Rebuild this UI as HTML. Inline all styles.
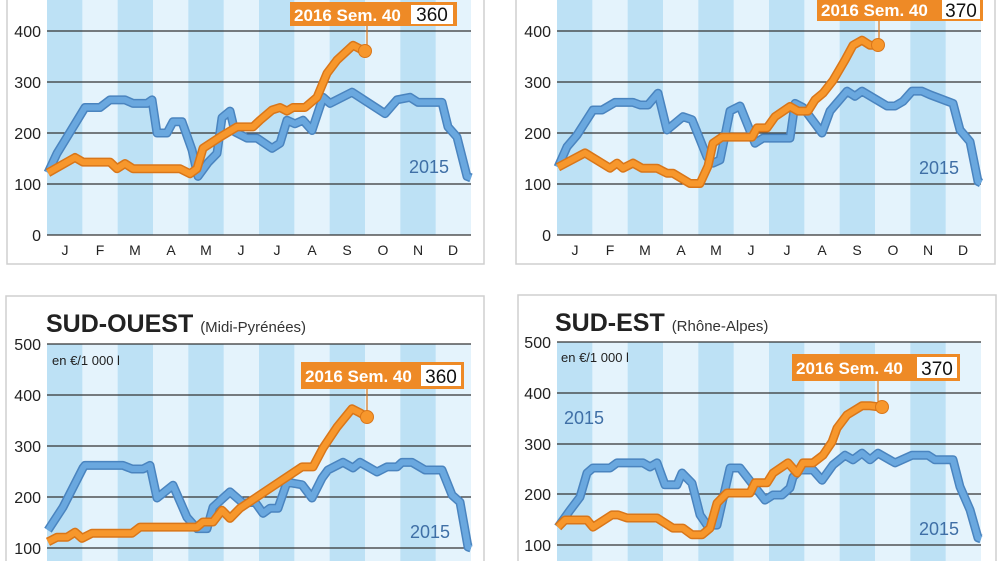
<!DOCTYPE html>
<html><head><meta charset="utf-8"><style>
html,body{margin:0;padding:0;background:#fff;width:1000px;height:561px;overflow:hidden}
svg{display:block}
.ax{font-family:"Liberation Sans",sans-serif;font-size:16px;fill:#222}
.mo{font-family:"Liberation Sans",sans-serif;font-size:14px;fill:#222;text-anchor:middle}
.yr{font-family:"Liberation Sans",sans-serif;font-size:18px;fill:#3f6fa6}
.lb{font-family:"Liberation Sans",sans-serif;font-size:17px;font-weight:bold;fill:#fff}
.lv{font-family:"Liberation Sans",sans-serif;font-size:19px;fill:#111}
.bo{fill:none;stroke:#4a84bf;stroke-width:9;stroke-linejoin:round}
.bi{fill:none;stroke:#6aa8df;stroke-width:6;stroke-linejoin:round}
.oo{fill:none;stroke:#d97619;stroke-width:9;stroke-linejoin:round}
.oi{fill:none;stroke:#f7972c;stroke-width:6;stroke-linejoin:round}
.g{stroke:#333;stroke-width:1.2}
</style></head><body>
<svg width="1000" height="561" viewBox="0 0 1000 561" xmlns="http://www.w3.org/2000/svg">
<defs>
<pattern id="pL" patternUnits="userSpaceOnUse" x="47" y="0" width="70.667" height="600"><rect width="70.667" height="600" fill="#e4f3fc"/><rect width="35.333" height="600" fill="#bde1f5"/></pattern>
<pattern id="pR" patternUnits="userSpaceOnUse" x="557" y="0" width="70.667" height="600"><rect width="70.667" height="600" fill="#e4f3fc"/><rect width="35.333" height="600" fill="#bde1f5"/></pattern>
</defs>
<rect x="7" y="-10" width="477" height="274" fill="none" stroke="#cfcfcf" stroke-width="1.5"/>
<rect x="516" y="-10" width="479" height="274" fill="none" stroke="#cfcfcf" stroke-width="1.5"/>
<rect x="6" y="296" width="478" height="280" fill="none" stroke="#cfcfcf" stroke-width="1.5"/>
<rect x="518" y="295" width="478" height="280" fill="none" stroke="#cfcfcf" stroke-width="1.5"/>

<rect x="47" y="0" width="424" height="235" fill="url(#pL)"/>
<rect x="557" y="0" width="424" height="235" fill="url(#pR)"/>
<rect x="47" y="344" width="424" height="220" fill="url(#pL)"/>
<rect x="557" y="342" width="424" height="222" fill="url(#pR)"/>

<g class="g">
<line x1="47" x2="471" y1="31" y2="31"/><line x1="47" x2="471" y1="82" y2="82"/><line x1="47" x2="471" y1="133" y2="133"/><line x1="47" x2="471" y1="184" y2="184"/><line x1="47" x2="471" y1="235" y2="235"/>
<line x1="557" x2="981" y1="31" y2="31"/><line x1="557" x2="981" y1="82" y2="82"/><line x1="557" x2="981" y1="133" y2="133"/><line x1="557" x2="981" y1="184" y2="184"/><line x1="557" x2="981" y1="235" y2="235"/>
<line x1="47" x2="471" y1="344" y2="344"/><line x1="47" x2="471" y1="395" y2="395"/><line x1="47" x2="471" y1="446" y2="446"/><line x1="47" x2="471" y1="497" y2="497"/><line x1="47" x2="471" y1="548" y2="548"/>
<line x1="557" x2="981" y1="342" y2="342"/><line x1="557" x2="981" y1="393" y2="393"/><line x1="557" x2="981" y1="444" y2="444"/><line x1="557" x2="981" y1="494" y2="494"/><line x1="557" x2="981" y1="545" y2="545"/>
</g>

<g class="ax" text-anchor="end">
<text x="41" y="37">400</text><text x="41" y="88">300</text><text x="41" y="139">200</text><text x="41" y="190">100</text><text x="41" y="241">0</text>
<text x="551" y="37">400</text><text x="551" y="88">300</text><text x="551" y="139">200</text><text x="551" y="190">100</text><text x="551" y="241">0</text>
<text x="41" y="350">500</text><text x="41" y="401">400</text><text x="41" y="452">300</text><text x="41" y="503">200</text><text x="41" y="554">100</text>
<text x="551" y="348">500</text><text x="551" y="399">400</text><text x="551" y="450">300</text><text x="551" y="500">200</text><text x="551" y="551">100</text>
</g>

<g class="mo">
<text x="65" y="255">J</text><text x="100" y="255">F</text><text x="135" y="255">M</text><text x="171" y="255">A</text><text x="206" y="255">M</text><text x="241" y="255">J</text><text x="277" y="255">J</text><text x="312" y="255">A</text><text x="347" y="255">S</text><text x="383" y="255">O</text><text x="418" y="255">N</text><text x="453" y="255">D</text>
<text x="575" y="255">J</text><text x="610" y="255">F</text><text x="645" y="255">M</text><text x="681" y="255">A</text><text x="716" y="255">M</text><text x="751" y="255">J</text><text x="787" y="255">J</text><text x="822" y="255">A</text><text x="857" y="255">S</text><text x="893" y="255">O</text><text x="928" y="255">N</text><text x="963" y="255">D</text>
</g>

<text x="46" y="332" font-family="Liberation Sans,sans-serif" font-size="25" font-weight="bold" fill="#222">SUD-OUEST <tspan font-size="15" font-weight="normal" fill="#333">(Midi-Pyrénées)</tspan></text>
<text x="555" y="331" font-family="Liberation Sans,sans-serif" font-size="25" font-weight="bold" fill="#222">SUD-EST <tspan font-size="15" font-weight="normal" fill="#333">(Rhône-Alpes)</tspan></text>
<text x="52" y="365" font-family="Liberation Sans,sans-serif" font-size="13" fill="#222">en €/1 000 l</text>
<text x="561" y="362" font-family="Liberation Sans,sans-serif" font-size="13" fill="#222">en €/1 000 l</text>

<g transform="translate(0,235) scale(1,-0.51)">
<polyline vector-effect="non-scaling-stroke" class="bo" points="48,122 57,160 67,192 85,250 100,250 110,265 125,265 133,258 147,258 152,265 157,200 167,200 173,222 182,222 192,167 198,115 208,142 217,160 222,230 230,243 235,202 247,190 257,190 272,170 280,180 287,225 295,218 303,225 312,205 323,270 330,258 352,280 385,238 397,265 410,270 418,260 442,260 448,212 457,192 467,115 471,112"/>
<polyline vector-effect="non-scaling-stroke" class="bi" points="48,122 57,160 67,192 85,250 100,250 110,265 125,265 133,258 147,258 152,265 157,200 167,200 173,222 182,222 192,167 198,115 208,142 217,160 222,230 230,243 235,202 247,190 257,190 272,170 280,180 287,225 295,218 303,225 312,205 323,270 330,258 352,280 385,238 397,265 410,270 418,260 442,260 448,212 457,192 467,115 471,112"/>
<polyline vector-effect="non-scaling-stroke" class="oo" points="48,122 75,152 83,143 110,143 117,130 125,140 133,130 180,130 190,120 197,130 203,170 220,192 237,212 253,212 260,225 272,245 280,250 287,243 293,250 305,250 317,270 327,317 337,343 353,372 360,365 365,360"/>
<polyline vector-effect="non-scaling-stroke" class="oi" points="48,122 75,152 83,143 110,143 117,130 125,140 133,130 180,130 190,120 197,130 203,170 220,192 237,212 253,212 260,225 272,245 280,250 287,243 293,250 305,250 317,270 327,317 337,343 353,372 360,365 365,360"/>
</g>
<g transform="translate(0,235) scale(1,-0.51)">
<polyline vector-effect="non-scaling-stroke" class="bo" points="558,133 567,173 577,196 593,245 602,245 615,260 633,260 640,255 648,255 658,278 667,206 683,232 692,226 707,153 713,141 720,147 730,243 740,253 755,180 763,190 790,190 795,258 803,250 822,200 830,243 847,282 855,272 862,282 887,253 895,253 903,262 912,282 922,282 930,275 953,258 960,206 970,183 978,105 981,102"/>
<polyline vector-effect="non-scaling-stroke" class="bi" points="558,133 567,173 577,196 593,245 602,245 615,260 633,260 640,255 648,255 658,278 667,206 683,232 692,226 707,153 713,141 720,147 730,243 740,253 755,180 763,190 790,190 795,258 803,250 822,200 830,243 847,282 855,272 862,282 887,253 895,253 903,262 912,282 922,282 930,275 953,258 960,206 970,183 978,105 981,102"/>
<polyline vector-effect="non-scaling-stroke" class="oo" points="558,133 585,161 610,131 617,141 623,131 633,141 642,131 657,131 667,121 673,121 690,101 700,101 708,135 713,180 722,192 752,192 757,210 767,210 775,232 790,252 798,243 808,243 815,265 823,278 833,303 845,343 853,372 862,382 870,372 878,372"/>
<polyline vector-effect="non-scaling-stroke" class="oi" points="558,133 585,161 610,131 617,141 623,131 633,141 642,131 657,131 667,121 673,121 690,101 700,101 708,135 713,180 722,192 752,192 757,210 767,210 775,232 790,252 798,243 808,243 815,265 823,278 833,303 845,343 853,372 862,382 870,372 878,372"/>
</g>
<g transform="translate(0,599) scale(1,-0.51)">
<polyline vector-effect="non-scaling-stroke" class="bo" points="48,135 63,180 83,257 85,262 123,262 132,255 143,255 150,262 157,198 173,223 187,160 197,138 207,138 213,180 230,210 243,188 255,190 263,168 270,178 278,178 287,229 302,224 312,198 322,237 328,253 343,268 353,257 360,268 377,249 387,259 397,259 402,268 412,268 425,253 442,253 452,204 460,190 468,102 471,100"/>
<polyline vector-effect="non-scaling-stroke" class="bi" points="48,135 63,180 83,257 85,262 123,262 132,255 143,255 150,262 157,198 173,223 187,160 197,138 207,138 213,180 230,210 243,188 255,190 263,168 270,178 278,178 287,229 302,224 312,198 322,237 328,253 343,268 353,257 360,268 377,249 387,259 397,259 402,268 412,268 425,253 442,253 452,204 460,190 468,102 471,100"/>
<polyline vector-effect="non-scaling-stroke" class="oo" points="48,112 57,121 67,121 75,131 82,119 92,129 132,129 140,141 197,141 203,151 213,151 222,174 230,158 240,178 302,259 313,259 323,296 337,337 352,373 360,365 367,357"/>
<polyline vector-effect="non-scaling-stroke" class="oi" points="48,112 57,121 67,121 75,131 82,119 92,129 132,129 140,141 197,141 203,151 213,151 222,174 230,158 240,178 302,259 313,259 323,296 337,337 352,373 360,365 367,357"/>
</g>
<g transform="translate(0,597) scale(1,-0.51)">
<polyline vector-effect="non-scaling-stroke" class="bo" points="558,137 570,170 580,196 587,243 593,253 610,253 617,263 643,263 650,255 657,263 665,220 677,220 682,243 692,223 700,161 707,141 717,141 730,253 740,253 765,190 773,200 782,200 790,214 793,235 800,249 813,249 822,229 833,259 845,278 853,269 862,282 870,269 878,282 895,263 912,278 928,278 935,269 953,269 960,216 970,171 978,116 981,114"/>
<polyline vector-effect="non-scaling-stroke" class="bi" points="558,137 570,170 580,196 587,243 593,253 610,253 617,263 643,263 650,255 657,263 665,220 677,220 682,243 692,223 700,161 707,141 717,141 730,253 740,253 765,190 773,200 782,200 790,214 793,235 800,249 813,249 822,229 833,259 845,278 853,269 862,282 870,269 878,282 895,263 912,278 928,278 935,269 953,269 960,216 970,171 978,116 981,114"/>
<polyline vector-effect="non-scaling-stroke" class="oo" points="558,137 565,151 587,151 593,137 612,161 618,161 627,155 657,155 673,135 683,135 692,122 702,122 710,135 717,184 727,204 750,204 755,224 767,224 773,243 788,263 797,243 803,263 813,263 823,278 832,304 837,331 847,357 862,375 870,375 882,372"/>
<polyline vector-effect="non-scaling-stroke" class="oi" points="558,137 565,151 587,151 593,137 612,161 618,161 627,155 657,155 673,135 683,135 692,122 702,122 710,135 717,184 727,204 750,204 755,224 767,224 773,243 788,263 797,243 803,263 813,263 823,278 832,304 837,331 847,357 862,375 870,375 882,372"/>
</g>

<g stroke="#d97619" stroke-width="1.2">
<line x1="367" y1="25" x2="367" y2="48"/>
<line x1="879" y1="21" x2="879" y2="43"/>
<line x1="367" y1="388" x2="367" y2="414"/>
<line x1="878" y1="380" x2="878" y2="404"/>
</g>
<g fill="#f7972c" stroke="#d97619" stroke-width="1">
<circle cx="365" cy="51" r="6.5"/><circle cx="878" cy="45" r="6.5"/><circle cx="367" cy="417" r="6.5"/><circle cx="882" cy="407" r="6.5"/>
</g>
<rect x="290" y="2" width="167" height="24" fill="#ee8a26"/><rect x="411" y="5" width="42" height="19" fill="#fff"/>
<text class="lb" x="294" y="21">2016  Sem. 40</text><text class="lv" x="432" y="21" text-anchor="middle">360</text>
<rect x="817" y="-2" width="166" height="23" fill="#ee8a26"/><rect x="942" y="0" width="38" height="19" fill="#fff"/>
<text class="lb" x="821" y="16">2016  Sem. 40</text><text class="lv" x="961" y="17" text-anchor="middle">370</text>
<rect x="301" y="362" width="163" height="27" fill="#ee8a26"/><rect x="421" y="365" width="40" height="21" fill="#fff"/>
<text class="lb" x="305" y="382">2016  Sem. 40</text><text class="lv" x="441" y="383" text-anchor="middle">360</text>
<rect x="792" y="354" width="168" height="27" fill="#ee8a26"/><rect x="917" y="357" width="40" height="21" fill="#fff"/>
<text class="lb" x="796" y="374">2016  Sem. 40</text><text class="lv" x="937" y="375" text-anchor="middle">370</text>

<text class="yr" x="409" y="173">2015</text>
<text class="yr" x="919" y="174">2015</text>
<text class="yr" x="410" y="538">2015</text>
<text class="yr" x="919" y="535">2015</text>
<text class="yr" x="564" y="424">2015</text>
</svg>
</body></html>
